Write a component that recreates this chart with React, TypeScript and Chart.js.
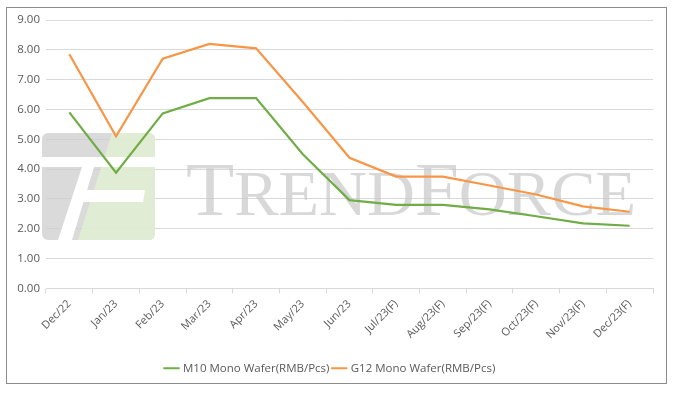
import React, { useEffect, useRef } from "react";
import { Chart, registerables } from "chart.js";

Chart.register(...registerables);

const categories = [
  "Dec/22", "Jan/23", "Feb/23", "Mar/23", "Apr/23", "May/23", "Jun/23",
  "Jul/23(F)", "Aug/23(F)", "Sep/23(F)", "Oct/23(F)", "Nov/23(F)", "Dec/23(F)",
];
const m10Values = [5.9, 3.88, 5.87, 6.38, 6.38, 4.5, 2.96, 2.8, 2.8, 2.65, 2.42, 2.18, 2.1];
const g12Values = [7.85, 5.1, 7.7, 8.2, 8.05, 6.25, 4.38, 3.75, 3.75, 3.45, 3.15, 2.75, 2.57];
const seriesNames = ["M10 Mono Wafer(RMB/Pcs)", "G12 Mono Wafer(RMB/Pcs)"];

const FONT = "'Open Sans', 'Noto Sans', sans-serif";

const decorPlugin = {
  id: "decor",
  beforeDraw(chart: any) {
    const ctx = chart.ctx;
    ctx.save();
    ctx.fillStyle = "#ffffff";
    ctx.fillRect(0, 0, chart.width, chart.height);
    ctx.strokeStyle = "#8c8c8c";
    ctx.lineWidth = 1;
    ctx.strokeRect(6.5, 7.5, 660, 376);
    ctx.restore();
  },
  beforeDatasetsDraw(chart: any) {
    const ctx = chart.ctx;
    ctx.save();
    const x0 = 42, y0 = 133, x1 = 155, y1 = 240;
    ctx.beginPath();
    (ctx as any).roundRect(x0, y0, x1 - x0, y1 - y0, 6);
    ctx.clip();
    ctx.fillStyle = "rgba(205,205,205,0.75)";
    ctx.fillRect(x0, y0, x1 - x0, y1 - y0);
    ctx.fillStyle = "rgba(225,238,210,0.85)";
    ctx.beginPath();
    ctx.moveTo(112, y0);
    ctx.lineTo(x1, y0);
    ctx.lineTo(x1, y1);
    ctx.lineTo(78, y1);
    ctx.closePath();
    ctx.fill();
    ctx.fillStyle = "#ffffff";
    ctx.fillRect(x0, 157, x1 - x0, 10);
    ctx.beginPath();
    ctx.moveTo(82, 167);
    ctx.lineTo(94, 167);
    ctx.lineTo(72, 240);
    ctx.lineTo(58, 240);
    ctx.closePath();
    ctx.fill();
    ctx.beginPath();
    ctx.moveTo(80, 190);
    ctx.lineTo(145, 190);
    ctx.lineTo(143, 202);
    ctx.lineTo(76, 202);
    ctx.closePath();
    ctx.fill();
    ctx.restore();

    ctx.save();
    ctx.fillStyle = "rgba(200,200,200,0.7)";
    ctx.textBaseline = "alphabetic";
    const big = "76px 'Liberation Serif', 'DejaVu Serif', serif";
    const small = "64px 'Liberation Serif', 'DejaVu Serif', serif";
    const parts: [string, string][] = [["T", big], ["REND", small], ["F", big], ["ORCE", small]];
    let total = 0;
    for (const [t, f] of parts) { ctx.font = f; total += ctx.measureText(t).width; }
    const targetW = 450;
    const sx = targetW / total;
    ctx.translate(186, 215);
    ctx.scale(sx, 1);
    let x = 0;
    for (const [t, f] of parts) {
      ctx.font = f;
      ctx.fillText(t, x, 0);
      x += ctx.measureText(t).width;
    }
    ctx.restore();
  },
};

export default function App() {
  const ref = useRef<HTMLCanvasElement | null>(null);
  useEffect(() => {
    if (!ref.current) return;
    const chart = new Chart(ref.current, {
      type: "line",
      data: {
        labels: categories,
        datasets: [
          {
            label: seriesNames[0],
            data: m10Values,
            borderColor: "#70ad47",
            backgroundColor: "#70ad47",
            borderWidth: 2.2,
            pointRadius: 0,
            tension: 0,
          },
          {
            label: seriesNames[1],
            data: g12Values,
            borderColor: "#f79646",
            backgroundColor: "#f79646",
            borderWidth: 2.2,
            pointRadius: 0,
            tension: 0,
          },
        ],
      },
      options: {
        animation: false,
        responsive: false,
        devicePixelRatio: 1,
        layout: { padding: { left: 8, right: 27, top: 20, bottom: 9 } },
        plugins: {
          tooltip: { enabled: false },
          legend: {
            position: "bottom",
            labels: {
              usePointStyle: true,
              pointStyle: "line",
              boxWidth: 27,
              color: "#595959",
              padding: 4,
              font: { family: FONT, size: 11.5 },
            },
          },
        },
        scales: {
          x: {
            offset: true,
            afterFit: (s: any) => { s.height += 13; },
            grid: {
              offset: true,
              drawOnChartArea: false,
              color: "#d9d9d9",
              tickLength: 5,
            },
            border: { color: "#d9d9d9" },
            ticks: {
              maxRotation: 45,
              minRotation: 45,
              color: "#595959",
              font: { family: FONT, size: 11 },
              padding: 4,
            },
          },
          y: {
            min: 0,
            max: 9,
            afterFit: (s: any) => { s.width = 38; },
            ticks: {
              stepSize: 1,
              color: "#595959",
              font: { family: FONT, size: 11.5 },
              callback: (v: any) => Number(v).toFixed(2),
              padding: 6,
            },
            grid: { color: "#d9d9d9", drawTicks: false, lineWidth: 1 },
            border: { display: false },
          },
        },
      },
      plugins: [decorPlugin],
    });
    return () => chart.destroy();
  }, []);
  return (
    <div style={{ position: "absolute", left: 0, top: 0, width: 680, height: 393 }}>
      <canvas ref={ref} width={680} height={393} style={{ width: 680, height: 393, display: "block" }} />
    </div>
  );
}
